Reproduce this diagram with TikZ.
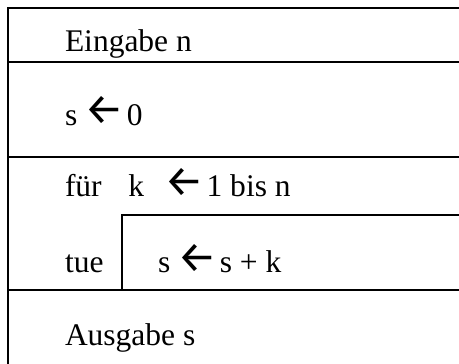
\documentclass[tikz,border=0pt]{standalone}
\usepackage{fontspec}
\setmainfont{Liberation Serif}
\newfontfamily\arrowfont{Fira Sans}
\newcommand{\la}[1]{\hspace{#1}\raisebox{0.5bp}{\fontsize{44bp}{50bp}\arrowfont ←}\hspace{3bp}}
\begin{document}
\begin{tikzpicture}[x=1bp,y=-1bp,
  rule/.style={line width=1.6bp,line cap=rect},
  txt/.style={anchor=base west,inner sep=0pt,outer sep=0pt,font=\fontsize{31.5bp}{36bp}\selectfont}]
\useasboundingbox (0,0) rectangle (459,363);
% frame lines
\draw[rule] (459,8) -- (8,8) -- (8,364);
\draw[rule] (8,62) -- (459,62);
\draw[rule] (8,157) -- (459,157);
\draw[rule] (122,290) |- (459,215);
\draw[rule] (8,290) -- (459,290);
% texts
\node[txt] (in)  at (65,51.7) {Eingabe n};
\node[txt] (s0)  at (65,125) {s\la{7bp}0};
\node[txt] (fur) at (65,196.7) {für};
\node[txt] (kk)  at (128.3,196.7) {k\la{20bp}1 bis n};
\node[txt] (tue) at (65,272.7) {tue};
\node[txt] (sk)  at (158,272.7) {s\la{7bp}s + k};
\node[txt] (out) at (65,345) {Ausgabe s};
\end{tikzpicture}
\end{document}
